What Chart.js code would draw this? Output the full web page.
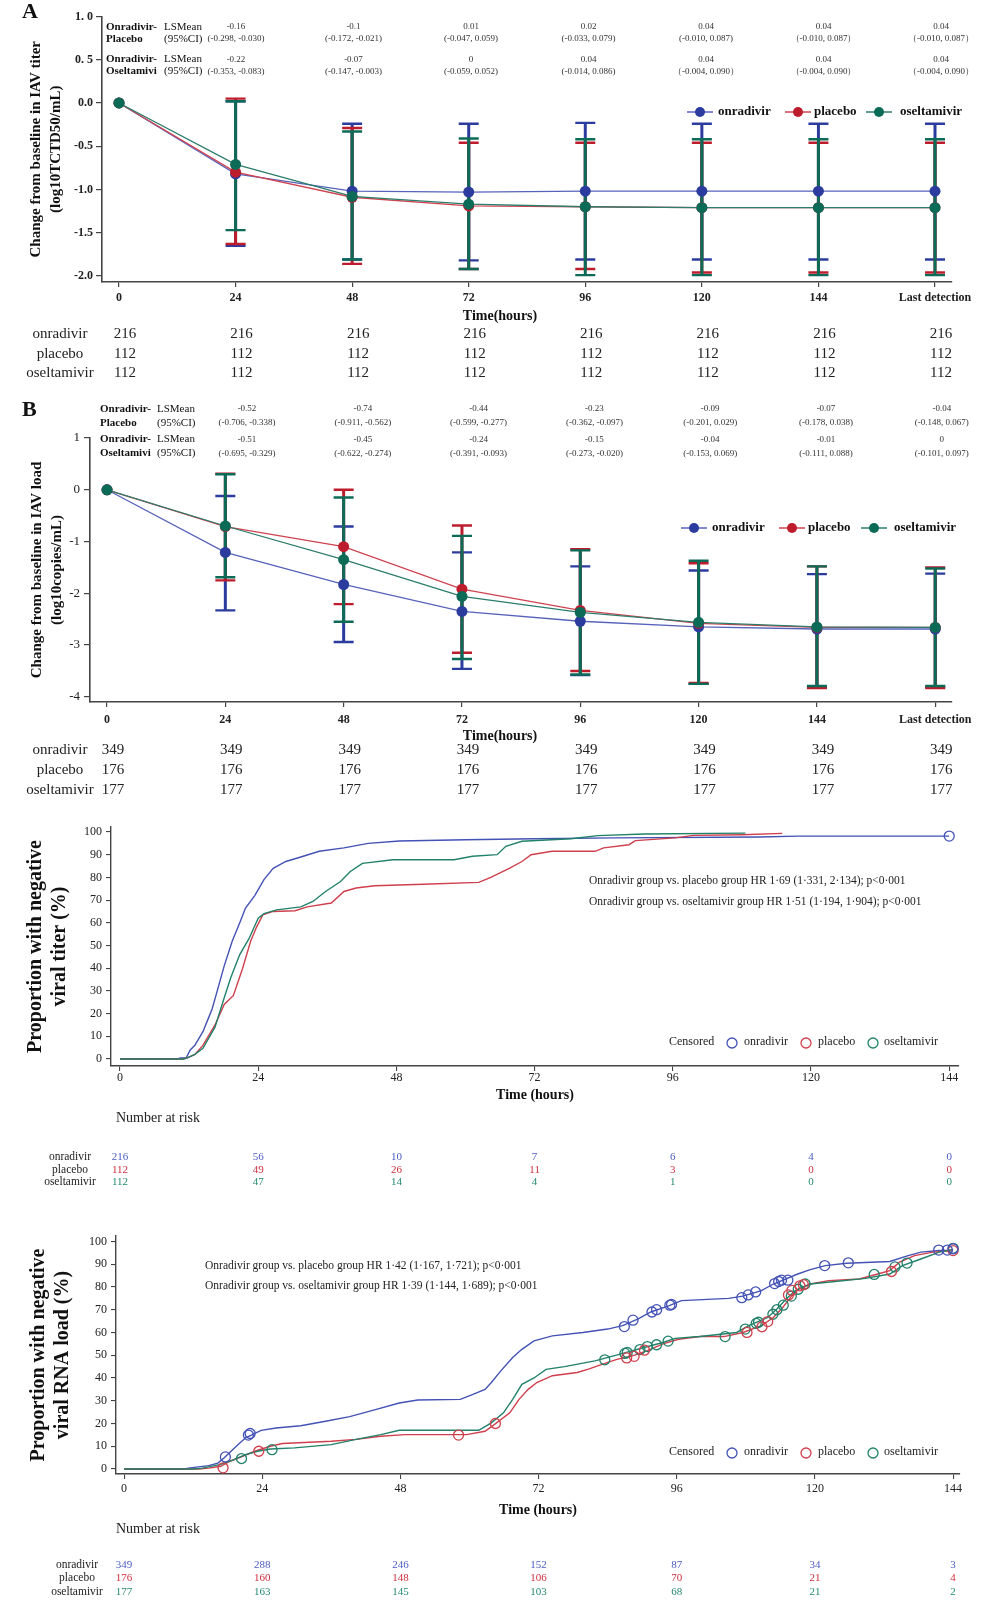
<!DOCTYPE html>
<html>
<head>
<meta charset="utf-8">
<title>Onradivir viral endpoints</title>
<script src="https://cdn.jsdelivr.net/npm/chart.js@4.4.1/dist/chart.umd.min.js"></script>
<style>
  html, body { margin: 0; padding: 0; background: #fff; }
  body { position: relative; width: 1000px; height: 1605px; overflow: hidden; }
  canvas { position: absolute; left: 0; }
</style>
</head>
<body>
<canvas id="chartA" width="1000" height="395" style="top:0px"></canvas>
<canvas id="chartB" width="1000" height="410" style="top:395px"></canvas>
<canvas id="chartC" width="1000" height="385" style="top:805px"></canvas>
<canvas id="chartD" width="1000" height="415" style="top:1190px"></canvas>
<script>
const SERIF = "'Liberation Serif', 'DejaVu Serif', serif";
Chart.defaults.font.family = SERIF;

// groups and visits
const groups = ['onradivir', 'placebo', 'oseltamivir'];
const visitHours = [0, 24, 48, 72, 96, 120, 144, 168];
const visitLabels = ['0', '24', '48', '72', '96', '120', '144', 'Last detection'];

// A: change from baseline in IAV titer (LS mean + 95% CI)
const titerOnr   = [0, -0.82, -1.02, -1.03, -1.02, -1.02, -1.02, -1.02];
const titerOnrHi = [null, 0.02, -0.24, -0.24, -0.23, -0.24, -0.24, -0.24];
const titerOnrLo = [null, -1.65, -1.81, -1.82, -1.81, -1.81, -1.81, -1.81];
const titerPla   = [0, -0.80, -1.09, -1.19, -1.20, -1.21, -1.21, -1.21];
const titerPlaHi = [null, 0.05, -0.29, -0.46, -0.46, -0.46, -0.46, -0.46];
const titerPlaLo = [null, -1.63, -1.86, -1.92, -1.92, -1.96, -1.96, -1.96];
const titerOse   = [0, -0.71, -1.08, -1.17, -1.20, -1.21, -1.21, -1.21];
const titerOseHi = [null, 0.02, -0.33, -0.41, -0.42, -0.42, -0.42, -0.42];
const titerOseLo = [null, -1.47, -1.81, -1.92, -1.99, -1.99, -1.99, -1.99];
const titerDiffPla = ['-0.16', '-0.1', '0.01', '0.02', '0.04', '0.04', '0.04'];
const titerCiPla = ['(-0.298, -0.030)', '(-0.172, -0.021)', '(-0.047, 0.059)', '(-0.033, 0.079)', '(-0.010, 0.087)', '（-0.010, 0.087）', '（-0.010, 0.087）'];
const titerDiffOse = ['-0.22', '-0.07', '0', '0.04', '0.04', '0.04', '0.04'];
const titerCiOse = ['(-0.353, -0.083)', '(-0.147, -0.003)', '(-0.059, 0.052)', '(-0.014, 0.086)', '（-0.004, 0.090）', '（-0.004, 0.090）', '（-0.004, 0.090）'];
const titerNOnr = [216, 216, 216, 216, 216, 216, 216, 216];
const titerNPla = [112, 112, 112, 112, 112, 112, 112, 112];
const titerNOse = [112, 112, 112, 112, 112, 112, 112, 112];

// B: change from baseline in IAV load
const loadOnr   = [0, -1.21, -1.83, -2.35, -2.54, -2.65, -2.69, -2.69];
const loadOnrHi = [null, -0.12, -0.71, -1.21, -1.48, -1.56, -1.63, -1.62];
const loadOnrLo = [null, -2.33, -2.94, -3.46, -3.58, -3.75, -3.81, -3.81];
const loadPla   = [0, -0.71, -1.10, -1.92, -2.33, -2.58, -2.66, -2.66];
const loadPlaHi = [null, 0.31, 0.0, -0.69, -1.15, -1.42, -1.48, -1.50];
const loadPlaLo = [null, -1.75, -2.21, -3.15, -3.50, -3.73, -3.83, -3.83];
const loadOse   = [0, -0.70, -1.35, -2.06, -2.37, -2.56, -2.65, -2.66];
const loadOseHi = [null, 0.30, -0.15, -0.89, -1.17, -1.37, -1.48, -1.52];
const loadOseLo = [null, -1.69, -2.55, -3.27, -3.57, -3.75, -3.79, -3.79];
const loadDiffPla = ['-0.52', '-0.74', '-0.44', '-0.23', '-0.09', '-0.07', '-0.04'];
const loadCiPla = ['(-0.706, -0.338)', '(-0.911, -0.562)', '(-0.599, -0.277)', '(-0.362, -0.097)', '(-0.201, 0.029)', '(-0.178, 0.038)', '(-0.148, 0.067)'];
const loadDiffOse = ['-0.51', '-0.45', '-0.24', '-0.15', '-0.04', '-0.01', '0'];
const loadCiOse = ['(-0.695, -0.329)', '(-0.622, -0.274)', '(-0.391, -0.093)', '(-0.273, -0.020)', '(-0.153, 0.069)', '(-0.111, 0.088)', '(-0.101, 0.097)'];
const loadNOnr = [349, 349, 349, 349, 349, 349, 349, 349];
const loadNPla = [176, 176, 176, 176, 176, 176, 176, 176];
const loadNOse = [177, 177, 177, 177, 177, 177, 177, 177];

// C: time to negative viral titer (cumulative %)
const kmHours = [0, 24, 48, 72, 96, 120, 144];
const kmTiterOnrT = [0, 10, 10.5, 11.5, 12.2, 13, 14.4, 15.2, 16, 17, 18.1, 19.5, 20.8, 21.8, 23.4, 25, 26.6, 28.8, 31.4, 34.6, 38.9, 43.1, 48.5, 60, 72, 86, 111, 117.7, 144];
const kmTiterOnrP = [0, 0, 0.5, 0.5, 4, 6, 12, 17, 22, 31, 41, 52, 60, 66.5, 72, 79, 84, 87, 89, 91.5, 93, 95, 96, 96.6, 97, 97.4, 97.8, 98.2, 98.2];
const kmTiterPlaT = [0, 11, 11.7, 13, 14.4, 16.5, 18.1, 19.7, 21.3, 22.7, 23.7, 24.8, 26.6, 30.4, 32.5, 36.7, 38.9, 41, 44.2, 52.7, 62.3, 64.4, 67.6, 69.8, 71.4, 75, 82.5, 84, 88.4, 89.5, 96.4, 99.6, 108, 115];
const kmTiterPlaP = [0, 0, 0.5, 2, 6, 15, 24, 28, 40, 52, 58, 63.5, 65, 65.3, 67, 68.7, 73.8, 75.3, 76.3, 77, 77.8, 80, 84, 87, 90, 91.5, 91.5, 93, 94.4, 96.2, 97.4, 98.5, 98.8, 99.4];
const kmTiterOseT = [0, 11, 11.7, 13, 14.4, 16.5, 18.1, 19.2, 20.8, 22.4, 24, 25, 27.2, 31.4, 33.5, 35.7, 38.3, 40, 42.1, 47.4, 58, 61.2, 65.5, 67, 69.8, 78.3, 83, 91, 108.6];
const kmTiterOseP = [0, 0, 0.5, 2, 4.7, 14, 27, 35.6, 46, 53, 62, 64, 65.7, 67, 69.4, 73.8, 78.2, 82.6, 86.2, 87.8, 87.8, 89.3, 90, 93.7, 95.9, 97, 98.4, 99.1, 99.5];
const kmTiterOnrCens = [[144, 98.2]];
const kmTiterPlaCens = [];
const kmTiterOseCens = [];
const riskTiterOnr = [216, 56, 10, 7, 6, 4, 0];
const riskTiterPla = [112, 49, 26, 11, 3, 0, 0];
const riskTiterOse = [112, 47, 14, 4, 1, 0, 0];

// D: time to negative viral RNA load (cumulative %)
const kmLoadOnrT = [0, 10.4, 11.5, 14.7, 16.3, 17.4, 19.5, 21.1, 22.2, 23.8, 26.4, 30.7, 35, 39.2, 43.5, 47.8, 51, 58.4, 60.6, 62.7, 63.8, 65.4, 67.5, 69.1, 71.2, 74.4, 79.7, 84, 86.6, 89.3, 91.5, 94.7, 96.8, 105, 107.5, 110.7, 112.8, 117, 119.2, 121.8, 125.5, 133, 136.2, 138.4, 141.6, 144];
const kmLoadOnrP = [0, 0, 0.5, 1.5, 2.6, 4.9, 10, 13.7, 15, 17, 18, 19, 21, 23, 26, 29, 30.3, 30.6, 32.8, 35, 38, 43, 49, 52.6, 56.3, 58.5, 60, 61.5, 63, 66, 69, 71.8, 74, 75, 76, 78.4, 81.3, 85.7, 87.6, 89.4, 90.4, 91.2, 93.8, 95.3, 96, 96];
const kmLoadPlaT = [0, 13, 14.7, 16.8, 18.4, 20.6, 22.7, 25.4, 27.5, 36, 40.3, 44.6, 48.8, 59.5, 62.7, 64.3, 67, 68.6, 70.2, 71.7, 74.4, 78.7, 80.8, 83, 85.6, 88.3, 90.9, 93.6, 96.3, 100, 104.2, 107.5, 110.7, 112.8, 114.4, 116, 117, 119.2, 122.4, 127.7, 130.9, 133, 134.7, 137.3, 140.5, 144];
const kmLoadPlaP = [0, 0, 0.4, 1.2, 3.4, 5.6, 7.8, 10, 11.2, 12.2, 13, 14.4, 15.1, 15.1, 16.6, 19.5, 24.7, 30.6, 35, 38, 41, 42.4, 44, 46, 48.2, 49.7, 52, 55, 57, 58.2, 58.2, 60, 63, 66.6, 71, 76.2, 79, 81.3, 82.8, 83.5, 85.7, 87.2, 90.9, 93.8, 95.3, 96];
const kmLoadOseT = [0, 12, 13.6, 16.8, 19, 21.1, 23.2, 25.4, 29.6, 36, 40.3, 44.6, 47.8, 61.6, 63.8, 65.9, 67.5, 69.1, 71.2, 73.3, 76.5, 81.8, 86, 90.3, 93.6, 95.7, 100, 106.4, 108.5, 111.8, 113.4, 115, 116.6, 119.2, 123.5, 128.8, 133, 135.2, 138.4, 141.6, 144];
const kmLoadOseP = [0, 0, 0.4, 2, 4, 6.3, 7.8, 8.8, 9.3, 10.7, 13, 15.1, 17, 17, 20.3, 24.7, 30.6, 37.2, 40, 43.8, 45, 47.5, 50.4, 53.4, 55.6, 57.4, 58.2, 60, 63, 66.6, 70.3, 74.7, 78.4, 81.3, 82.4, 83.8, 85.7, 89.4, 92.3, 95.3, 96.5];
const kmLoadOnrCens = [[17.6, 5.3], [21.6, 14.9], [21.9, 15.6], [86.9, 62.6], [88.4, 65.4], [91.7, 69], [92.5, 70], [94.8, 72], [95.1, 72.3], [107.3, 75.3], [108.4, 76.5], [109.7, 77.8], [113, 81.5], [113.7, 82.4], [114.2, 83], [115.3, 83], [121.7, 89.4], [125.8, 90.6], [141.5, 96.2], [143, 96.2], [144, 96.8]];
const kmLoadPlaCens = [[17.2, 0.5], [23.4, 7.8], [58.1, 14.9], [64.5, 20], [87.3, 48.8], [88.6, 49.5], [90.4, 52.2], [108.2, 60], [110.8, 62.5], [111.8, 64.8], [115.4, 76.5], [116, 78.5], [117.4, 80.5], [118, 81], [133.3, 86.8], [144, 96]];
const kmLoadOseCens = [[20.4, 4.6], [25.7, 8.5], [83.5, 48], [87, 50.8], [87.4, 51.2], [89.6, 52.5], [90.9, 53.8], [92.5, 54.6], [94.5, 56.2], [104.4, 58.2], [107.9, 61.5], [109.8, 64], [110.2, 64.5], [112.7, 68], [113.4, 70], [114.5, 72], [115.9, 76], [117.1, 79], [118.3, 81.3], [130.3, 85.5], [133.9, 88.8], [136, 90.5], [144, 97]];
const riskLoadOnr = [349, 288, 246, 152, 87, 34, 3];
const riskLoadPla = [176, 160, 148, 106, 70, 21, 4];
const riskLoadOse = [177, 163, 145, 103, 68, 21, 2];

// colours
const dotColors = ['#2b3c9e', '#bd1c2d', '#0c6b57'];
const lineColors = ['#5763ba', '#cf4350', '#2c7d6b'];
const kmColors = ['#4352b5', '#cf3f4c', '#218169'];
const riskColors = ['#4a5cc2', '#cf2f3d', '#248a70'];

function txt(ctx, s, x, y, font, color, align) {
  ctx.font = font;
  ctx.fillStyle = color || '#222';
  ctx.textAlign = align || 'left';
  ctx.textBaseline = 'middle';
  ctx.fillText(s, x, y);
}

// error bars, comparison table, legend and n-table for A and B
function meanDecor(o) {
  return {
    id: 'meanDecor',
    beforeDatasetsDraw(chart) {
      const { ctx, scales: { x, y } } = chart;
      ctx.save();
      chart.data.datasets.forEach(ds => {
        ctx.strokeStyle = ds.pointBackgroundColor;
        ds.data.forEach((p, i) => {
          if (ds.ciLo[i] == null) return;
          const px = x.getPixelForValue(p.x);
          const yh = y.getPixelForValue(ds.ciHi[i]);
          const yl = y.getPixelForValue(ds.ciLo[i]);
          ctx.lineWidth = 3;
          ctx.beginPath(); ctx.moveTo(px, yh); ctx.lineTo(px, yl); ctx.stroke();
          ctx.lineWidth = 2.4;
          ctx.beginPath();
          ctx.moveTo(px - 10, yh); ctx.lineTo(px + 10, yh);
          ctx.moveTo(px - 10, yl); ctx.lineTo(px + 10, yl);
          ctx.stroke();
        });
      });
      ctx.restore();
    },
    afterDraw(chart) {
      const { ctx, scales: { x } } = chart;
      ctx.save();
      txt(ctx, o.letter, 22, o.letterY, `bold 22px ${SERIF}`, '#111');
      const bold = `bold 11px ${SERIF}`, reg = `11px ${SERIF}`, small = `9px ${SERIF}`;
      const r = o.rowY;
      txt(ctx, 'Onradivir-', o.labX, r[0], bold, '#111');
      txt(ctx, 'LSMean', o.labX2, r[0], reg, '#111');
      txt(ctx, 'Placebo', o.labX, r[1], bold, '#111');
      txt(ctx, '(95%CI)', o.labX2, r[1], reg, '#111');
      txt(ctx, 'Onradivir-', o.labX, r[2], bold, '#111');
      txt(ctx, 'LSMean', o.labX2, r[2], reg, '#111');
      txt(ctx, 'Oseltamivi', o.labX, r[3], bold, '#111');
      txt(ctx, '(95%CI)', o.labX2, r[3], reg, '#111');
      for (let i = 0; i < o.diffPla.length; i++) {
        const px = o.colX0 + o.colDx * i;
        txt(ctx, o.diffPla[i], px, r[0], small, '#333', 'center');
        txt(ctx, o.ciPla[i], px, r[1], small, '#333', 'center');
        txt(ctx, o.diffOse[i], px, r[2] + 1, small, '#333', 'center');
        txt(ctx, o.ciOse[i], px, r[3] + 1, small, '#333', 'center');
      }
      // legend
      groups.forEach((g, k) => {
        const mx = o.legendMark[k];
        ctx.strokeStyle = lineColors[k]; ctx.lineWidth = 1.5;
        ctx.beginPath(); ctx.moveTo(mx - 13, o.legendY); ctx.lineTo(mx + 13, o.legendY); ctx.stroke();
        ctx.fillStyle = dotColors[k];
        ctx.beginPath(); ctx.arc(mx, o.legendY, 5, 0, Math.PI * 2); ctx.fill();
        txt(ctx, g, o.legendText[k], o.legendY, `bold 13px ${SERIF}`, '#111');
      });
      txt(ctx, 'Time(hours)', 500, o.titleY, `bold 14px ${SERIF}`, '#111', 'center');
      // n per visit
      const counts = o.counts;
      groups.forEach((g, k) => {
        txt(ctx, g, 60, o.tableY[k], `15px ${SERIF}`, '#222', 'center');
        counts[k].forEach((n, i) => {
          txt(ctx, String(n), x.getPixelForValue(visitHours[i]) + 6, o.tableY[k], `15px ${SERIF}`, '#222', 'center');
        });
      });
      ctx.restore();
    }
  };
}

function meanChart(id, o) {
  const series = o.series;
  const datasets = series.map((s, k) => ({
    label: groups[k],
    data: visitHours.map((h, i) => ({ x: h, y: s.mean[i] })),
    ciLo: s.lo, ciHi: s.hi,
    borderColor: lineColors[k],
    backgroundColor: dotColors[k],
    pointBackgroundColor: dotColors[k],
    pointBorderColor: dotColors[k],
    pointRadius: 5.5, pointBorderWidth: 0, borderWidth: 1.3,
    tension: 0, order: 3 - k
  }));
  return new Chart(document.getElementById(id), {
    type: 'line',
    data: { datasets },
    options: {
      responsive: false, animation: false,
      layout: { padding: { left: 0, right: 48, top: o.padTop, bottom: o.padBottom } },
      plugins: { legend: { display: false }, tooltip: { enabled: false } },
      scales: {
        x: {
          type: 'linear', min: o.xMin, max: o.xMax,
          afterBuildTicks: a => { a.ticks = visitHours.map(v => ({ value: v })); },
          afterFit: a => { a.height = 40; },
          ticks: {
            autoSkip: false, maxRotation: 0, padding: o.xPad,
            callback: (v, i) => visitLabels[i],
            font: { size: 12, weight: 'bold', family: SERIF }, color: '#222'
          },
          grid: { drawOnChartArea: false, drawTicks: true, tickLength: 5, color: '#444', lineWidth: 1.2 },
          border: { display: true, color: '#444', width: 1.6 }
        },
        y: {
          type: 'linear', min: o.yMin, max: o.yMax,
          afterBuildTicks: a => { a.ticks = o.yTicks.map(v => ({ value: v })); },
          afterFit: a => { a.width = o.yWidth; },
          ticks: {
            padding: o.yPad, callback: o.yFmt,
            font: { size: o.yFont, weight: o.yWeight, family: SERIF }, color: '#222'
          },
          grid: { drawOnChartArea: false, drawTicks: true, tickLength: 6, color: '#444', lineWidth: 1.2 },
          border: { display: true, color: '#444', width: 1.6 },
          title: {
            display: true, text: o.yTitle, color: '#111',
            font: { size: 15, weight: 'bold', family: SERIF, lineHeight: 1.33 },
            padding: { top: o.yTitlePad, bottom: 0 }
          }
        }
      }
    },
    plugins: [meanDecor(o)]
  });
}

// KM panels: HR text, censored legend, axis title, numbers at risk
function kmDecor(o) {
  return {
    id: 'kmDecor',
    afterDraw(chart) {
      const { ctx, scales: { x }, chartArea } = chart;
      ctx.save();
      txt(ctx, o.hr[0], o.hrX, o.hrY[0], `11.5px ${SERIF}`, '#222');
      txt(ctx, o.hr[1], o.hrX, o.hrY[1], `11.5px ${SERIF}`, '#222');
      // censored legend
      const ly = o.legendY;
      txt(ctx, 'Censored', 669, ly, `12px ${SERIF}`, '#222');
      const cx = [732, 806, 873], tx = [744, 818, 884];
      groups.forEach((g, k) => {
        ctx.strokeStyle = kmColors[k]; ctx.lineWidth = 1.3;
        ctx.beginPath(); ctx.arc(cx[k], ly + 1, 5, 0, Math.PI * 2); ctx.stroke();
        txt(ctx, g, tx[k], ly, `12px ${SERIF}`, '#222');
      });
      txt(ctx, 'Time (hours)', (chartArea.left + chartArea.right) / 2, o.titleY, `bold 14px ${SERIF}`, '#111', 'center');
      txt(ctx, 'Number at risk', 116, o.riskTitleY, `14px ${SERIF}`, '#222');
      groups.forEach((g, k) => {
        txt(ctx, g, o.riskLabX, o.riskY[k], `11.5px ${SERIF}`, '#222', 'center');
        o.risk[k].forEach((n, i) => {
          txt(ctx, String(n), x.getPixelForValue(kmHours[i]), o.riskY[k], `11px ${SERIF}`, riskColors[k], 'center');
        });
      });
      ctx.restore();
    }
  };
}

function kmChart(id, o) {
  const lines = o.curves.map((c, k) => ({
    type: 'line', label: groups[k],
    data: c.t.map((t, i) => ({ x: t, y: c.p[i] })),
    borderColor: kmColors[k], borderWidth: 1.4,
    pointRadius: 0, fill: false, tension: 0, order: 3 - k
  }));
  const cens = o.censored.map((c, k) => ({
    type: 'scatter', label: groups[k] + ' censored',
    data: c.map(pt => ({ x: pt[0], y: pt[1] })),
    borderColor: kmColors[k], backgroundColor: 'rgba(0,0,0,0)',
    pointRadius: 5, pointBorderWidth: 1.3, showLine: false, order: 0
  }));
  return new Chart(document.getElementById(id), {
    type: 'line',
    data: { datasets: lines.concat(cens) },
    options: {
      responsive: false, animation: false,
      layout: { padding: { left: 0, right: o.padRight, top: o.padTop, bottom: o.padBottom } },
      plugins: { legend: { display: false }, tooltip: { enabled: false } },
      scales: {
        x: {
          type: 'linear', min: o.xMin, max: o.xMax,
          afterBuildTicks: a => { a.ticks = kmHours.map(v => ({ value: v })); },
          afterFit: a => { a.height = 40; },
          ticks: { autoSkip: false, maxRotation: 0, padding: o.xPad, font: { size: 12, family: SERIF }, color: '#222' },
          grid: { drawOnChartArea: false, drawTicks: true, tickLength: 5, color: '#444', lineWidth: 1.1 },
          border: { display: true, color: '#444', width: 1.4 }
        },
        y: {
          type: 'linear', min: o.yMin, max: o.yMax,
          afterBuildTicks: a => { a.ticks = [0, 10, 20, 30, 40, 50, 60, 70, 80, 90, 100].map(v => ({ value: v })); },
          afterFit: a => { a.width = o.yWidth; },
          ticks: { padding: 4, font: { size: 12, family: SERIF }, color: '#222' },
          grid: { drawOnChartArea: false, drawTicks: true, tickLength: 5, color: '#444', lineWidth: 1.1 },
          border: { display: true, color: '#444', width: 1.4 },
          title: {
            display: true, text: o.yTitle, color: '#111',
            font: { size: 20, weight: 'bold', family: SERIF, lineHeight: 1.2 },
            padding: { top: o.yTitlePad, bottom: 0 }
          }
        }
      }
    },
    plugins: [kmDecor(o)]
  });
}

meanChart('chartA', {
  series: [
    { mean: titerOnr, lo: titerOnrLo, hi: titerOnrHi },
    { mean: titerPla, lo: titerPlaLo, hi: titerPlaHi },
    { mean: titerOse, lo: titerOseLo, hi: titerOseHi }
  ],
  xMin: -3.5, xMax: 171.5, xPad: 4,
  yMin: -2.07, yMax: 1.0, yTicks: [1, 0.5, 0, -0.5, -1, -1.5, -2],
  yFmt: v => (v === 1 ? '1. 0' : v === 0.5 ? '0. 5' : v.toFixed(1)),
  yFont: 12, yWeight: 'bold', yPad: 3, yWidth: 102,
  yTitle: ['Change from baseline in IAV titer', '(log10TCTD50/mL)'], yTitlePad: 26,
  padTop: 16.5, padBottom: 73,
  letter: 'A', letterY: 12,
  rowY: [27, 39, 59, 71], labX: 106, labX2: 164, colX0: 236, colDx: 117.5,
  diffPla: titerDiffPla, ciPla: titerCiPla, diffOse: titerDiffOse, ciOse: titerCiOse,
  legendY: 112, legendMark: [700, 798, 879], legendText: [718, 814, 900],
  titleY: 316, tableY: [334, 354, 373],
  counts: [titerNOnr, titerNPla, titerNOse]
});

meanChart('chartB', {
  series: [
    { mean: loadOnr, lo: loadOnrLo, hi: loadOnrHi },
    { mean: loadPla, lo: loadPlaLo, hi: loadPlaHi },
    { mean: loadOse, lo: loadOseLo, hi: loadOseHi }
  ],
  xMin: -3.45, xMax: 171.4, xPad: 6,
  yMin: -4.1, yMax: 1, yTicks: [1, 0, -1, -2, -3, -4],
  yFmt: v => String(v),
  yFont: 13, yWeight: 'normal', yPad: 4, yWidth: 90,
  yTitle: ['Change from baseline in IAV load', '(log10copies/mL)'], yTitlePad: 27,
  padTop: 43, padBottom: 63,
  letter: 'B', letterY: 15,
  rowY: [14, 28, 44, 58], labX: 100, labX2: 157, colX0: 247, colDx: 115.8,
  diffPla: loadDiffPla, ciPla: loadCiPla, diffOse: loadDiffOse, ciOse: loadCiOse,
  legendY: 133, legendMark: [694, 792, 874], legendText: [712, 808, 894],
  titleY: 341, tableY: [355, 375, 395],
  counts: [loadNOnr, loadNPla, loadNOse]
});

kmChart('chartC', {
  curves: [
    { t: kmTiterOnrT, p: kmTiterOnrP },
    { t: kmTiterPlaT, p: kmTiterPlaP },
    { t: kmTiterOseT, p: kmTiterOseP }
  ],
  censored: [kmTiterOnrCens, kmTiterPlaCens, kmTiterOseCens],
  xMin: -1.56, xMax: 145.7, yMin: -3.1, yMax: 102.2, xPad: 0,
  yWidth: 111, padRight: 41, padTop: 22, padBottom: 84,
  yTitle: ['Proportion with negative', 'viral titer (%)'], yTitlePad: 24,
  hr: ['Onradivir group vs. placebo group HR 1·69 (1·331, 2·134); p<0·001',
       'Onradivir group vs. oseltamivir group HR 1·51 (1·194, 1·904); p<0·001'],
  hrX: 589, hrY: [76, 97], legendY: 237, titleY: 290,
  riskTitleY: 313, riskY: [352, 365, 377], riskLabX: 70,
  risk: [riskTiterOnr, riskTiterPla, riskTiterOse]
});

kmChart('chartD', {
  curves: [
    { t: kmLoadOnrT, p: kmLoadOnrP },
    { t: kmLoadPlaT, p: kmLoadPlaP },
    { t: kmLoadOseT, p: kmLoadOseP }
  ],
  censored: [kmLoadOnrCens, kmLoadPlaCens, kmLoadOseCens],
  xMin: -1.4, xMax: 145.2, yMin: -2.2, yMax: 102.4, xPad: 3,
  yWidth: 116, padRight: 40, padTop: 46, padBottom: 91,
  yTitle: ['Proportion with negative', 'viral RNA load (%)'], yTitlePad: 27,
  hr: ['Onradivir group vs. placebo group HR 1·42 (1·167, 1·721); p<0·001',
       'Onradivir group vs. oseltamivir group HR 1·39 (1·144, 1·689); p<0·001'],
  hrX: 205, hrY: [76, 96], legendY: 262, titleY: 320,
  riskTitleY: 339, riskY: [375, 388, 402], riskLabX: 77,
  risk: [riskLoadOnr, riskLoadPla, riskLoadOse]
});
</script>
</body>
</html>
